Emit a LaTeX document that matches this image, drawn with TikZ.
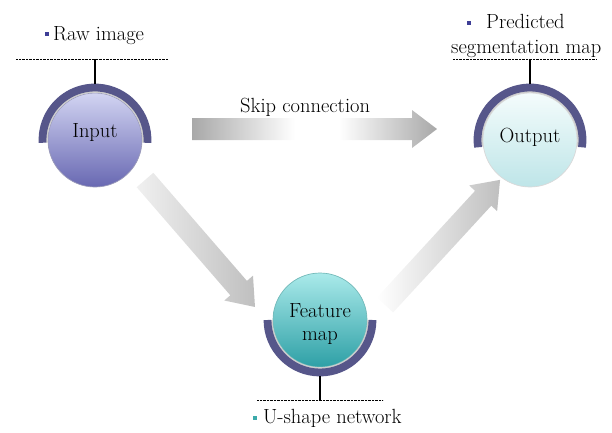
\documentclass[tikz,border=0pt]{standalone}
\usetikzlibrary{calc}

\definecolor{arcBlue}{RGB}{86,86,138}
\definecolor{dotBlue}{RGB}{62,62,150}
\definecolor{dotTeal}{RGB}{60,170,170}
\definecolor{arrowGray}{RGB}{168,168,168}

% gray - white - gray fade for the skip arrow
\pgfdeclarehorizontalshading{skipfade}{100bp}{%
  color(0bp)=(arrowGray); color(25bp)=(arrowGray); color(46bp)=(white);
  color(55bp)=(white); color(75bp)=(arrowGray); color(100bp)=(arrowGray)}

% block arrow: tail, angle, length, shading
\newcommand{\bigarrow}[4]{%
  \begin{scope}[shift={#1}, rotate=#2]
    \shade[#4] (0,-11) -- ({#3-25},-11) -- ({#3-25},-19) -- (#3,0)
      -- ({#3-25},19) -- ({#3-25},11) -- (0,11) -- cycle;
  \end{scope}}

\begin{document}
\begin{tikzpicture}[x=1pt, y=-1pt,
    every node/.style={font=\fontsize{20.5}{24}\selectfont, inner sep=0pt},
    ball/.style={circle, minimum size=94pt, line width=0.7pt},
    holder/.style={line width=7.8pt, color=arcBlue},
    shadowarc/.style={line width=1.8pt, color=gray!40},
    stem/.style={line width=1.1pt},
    rule/.style={line width=0.8pt, dash pattern=on 0.7pt off 0.7pt},
    bullet/.style={fill=#1, minimum size=4.5pt, inner sep=0pt}]
    \useasboundingbox (0,0) rectangle (612,432);

    % --- Draw the three balls ---
    \node[ball, draw=arcBlue!60, top color={rgb,255:red,210;green,212;blue,242},
          bottom color={rgb,255:red,104;green,104;blue,178}] (in) at (95,140) {};
    \node[ball, draw=gray!30, top color={rgb,255:red,244;green,252;blue,252},
          bottom color={rgb,255:red,190;green,229;blue,232}] (out) at (530,140) {};
    \node[ball, draw=teal!55, top color={rgb,255:red,170;green,234;blue,234},
          bottom color={rgb,255:red,46;green,160;blue,166}] (feat) at (320,320) {};
    \node[anchor=base] at ([yshift=3pt]in.center) {Input};
    \node[anchor=base] at ([yshift=-2pt]out.center) {Output};
    \node[anchor=base] at ([yshift=3pt]feat.center) {Feature};
    \node[anchor=base] at ([yshift=-20pt]feat.center) {map};
    % ---

    % --- Draw the holders ---
    \draw[shadowarc] ([shift={(-3:48.2pt)}]in.center) arc[start angle=-3, end angle=183, radius=48.2pt];
    \draw[holder] ([shift={(-3:52.5pt)}]in.center) arc[start angle=-3, end angle=183, radius=52.5pt];
    \draw[shadowarc] ([shift={(-8:48.2pt)}]out.center) arc[start angle=-8, end angle=188, radius=48.2pt];
    \draw[holder] ([shift={(-8:52.5pt)}]out.center) arc[start angle=-8, end angle=188, radius=52.5pt];
    \draw[shadowarc] ([shift={(180:48.2pt)}]feat.center) arc[start angle=180, end angle=360, radius=48.2pt];
    \draw[holder] ([shift={(180:52.5pt)}]feat.center) arc[start angle=180, end angle=360, radius=52.5pt];
    % ---

    % --- Draw rules, stems and labels ---
    \draw[rule] (16,59) coordinate (rawL) -- (168,59) coordinate (rawR);
    \draw[stem] ([yshift=56pt]in.center) -- (in |- rawL);
    \node[bullet=dotBlue] (rawDot) at (47,34) {};
    \node[anchor=base west] (rawTxt) at (53,40) {Raw image};

    \draw[rule] (453,59) coordinate (predL) -- (596,59) coordinate (predR);
    \draw[stem] ([yshift=56pt]out.center) -- (out |- predL);
    \node[bullet=dotBlue] (predDot) at (469,23) {};
    \node[anchor=base west] (predTxt) at (486,28) {Predicted};
    \node[anchor=base west] (segTxt) at (451,53) {segmentation map};

    \draw[rule] (257,400) coordinate (unetL) -- (383,400) coordinate (unetR);
    \draw[stem] ([yshift=-56pt]feat.center) -- (feat |- unetL);
    \node[bullet=dotTeal] (unetDot) at (255,418) {};
    \node[anchor=base west] (unetTxt) at (263,423) {U-shape network};
    % ---

    % --- Draw the block arrows ---
    \bigarrow{(192,129)}{0}{245}{shading=skipfade}
    \node[anchor=base west] (skipTxt) at (240,112) {Skip connection};
    \bigarrow{(145,180)}{-49.1}{168}{left color=gray!12, right color=gray!50}
    \bigarrow{(385,305)}{47.4}{170}{left color=white, right color=gray!50}
    % ---
\end{tikzpicture}
\end{document}
